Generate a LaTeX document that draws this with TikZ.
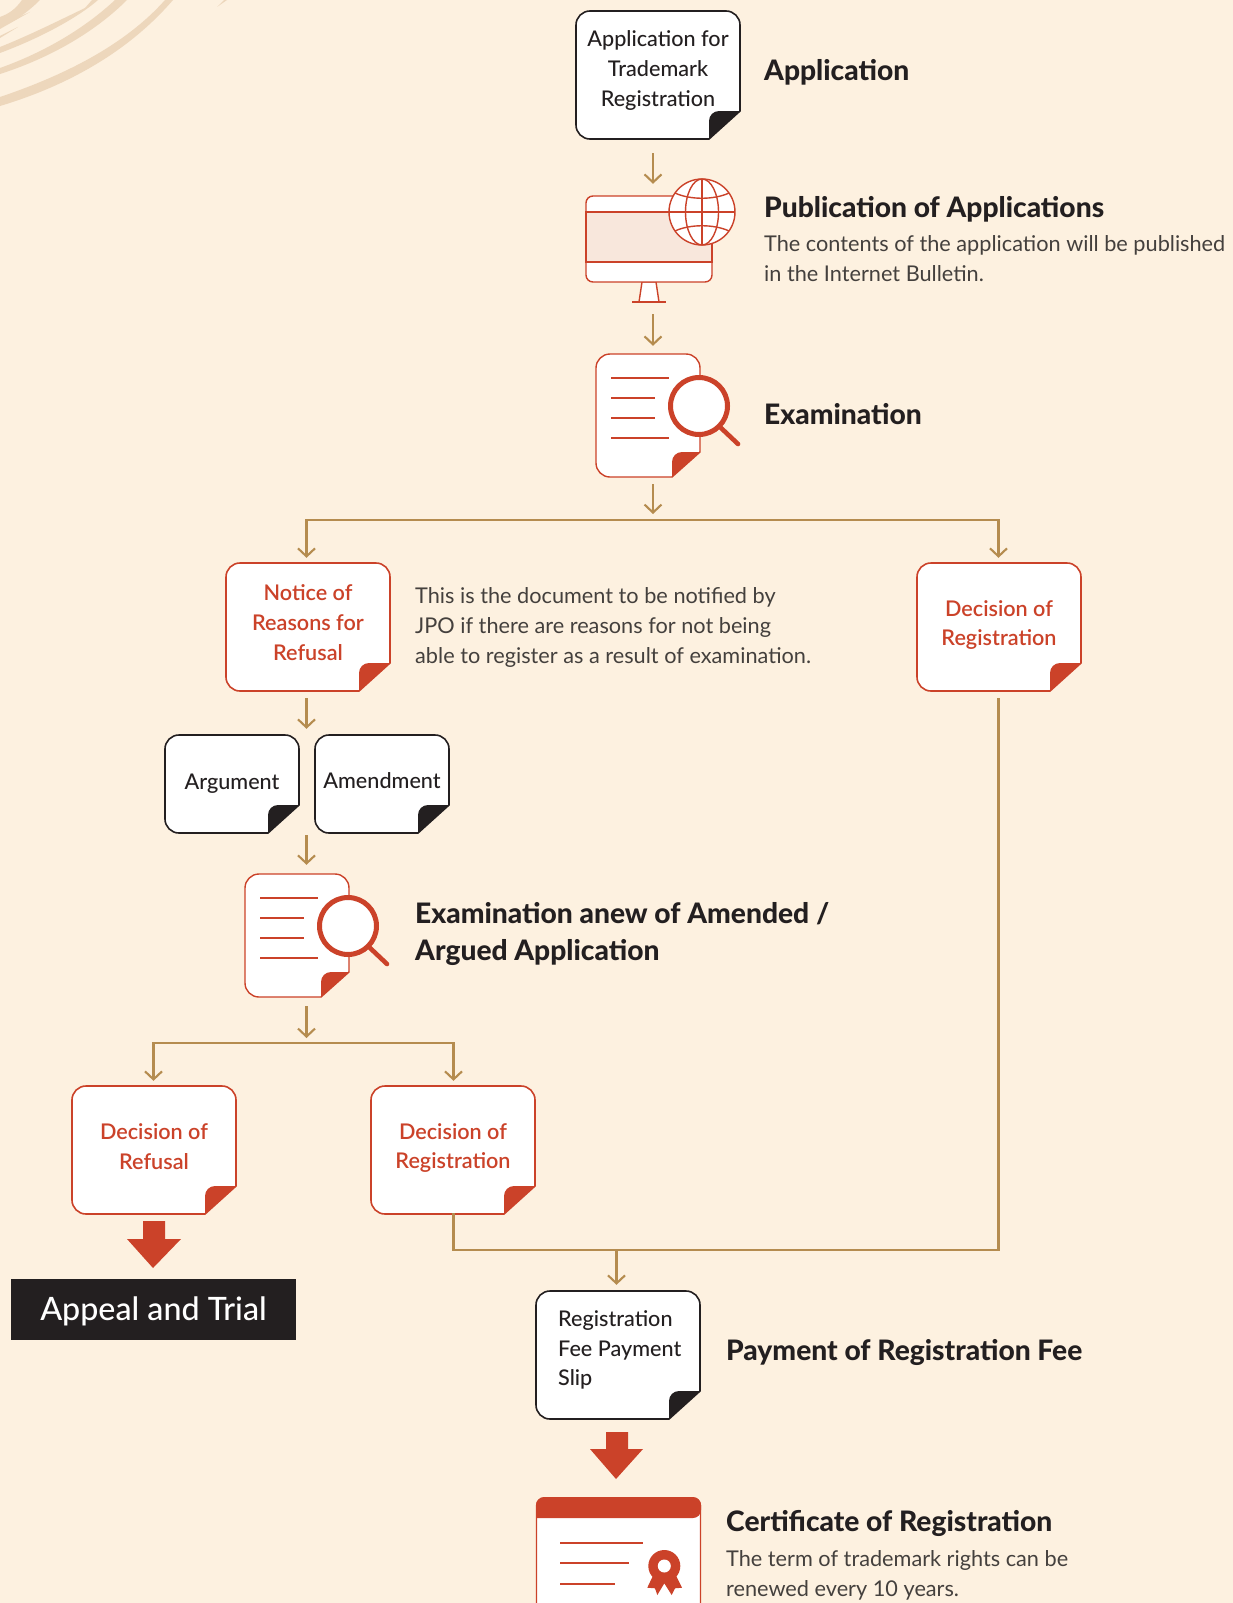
\documentclass[tikz,border=0pt]{standalone}
\usepackage{fontspec}
\setmainfont{Lato}
\newfontfamily\medfont{Lato Medium}
\newfontfamily\semifont{Lato Semibold}
\newfontfamily\heavyfont{Lato Heavy}
\usetikzlibrary{arrows.meta}
\definecolor{bg}{HTML}{FDF1E0}
\definecolor{swirl}{HTML}{EDD7BC}
\definecolor{ink}{HTML}{231F20}
\definecolor{bodyink}{HTML}{44403D}
\definecolor{brick}{HTML}{CB4229}
\definecolor{tan}{HTML}{B58C4F}
\definecolor{peach}{HTML}{F8E7DC}
\tikzset{
  flow/.style={draw=tan,line width=2.1pt,-{Straight Barb[length=8pt,width=17pt,line width=2.1pt]}},
  trunk/.style={draw=tan,line width=2.1pt,line cap=rect},
  boxtext/.style={font=\fontsize{21.6}{29.6}\selectfont\medfont,inner sep=0pt,align=center},
  heading/.style={font=\fontsize{28.2}{37}\selectfont\heavyfont,text=ink,inner sep=0pt,anchor=west,align=left},
  bodytext/.style={font=\fontsize{21.7}{30}\selectfont,text=bodyink,inner sep=0pt,anchor=west,align=left},
  thin red/.style={draw=brick,line width=1.4pt},
  bigarrow/.style={fill=brick,draw=none},
}
% name, x1, y1, x2, y2, colour, text colour, lift, text
\newcommand{\paperbox}[9]{%
  \path[fill=white,draw=#6,line width=1.6pt]
    ({#4-31},#5) -- ({#2+14},#5) arc[start angle=270,end angle=180,radius=14pt]
    -- (#2,{#3+14}) arc[start angle=180,end angle=90,radius=14pt]
    -- ({#4-14},#3) arc[start angle=90,end angle=0,radius=14pt]
    -- (#4,{#5-28}) -- cycle;
  \path[fill=#6] (#4,{#5-28}) -- ({#4-31},#5) -- ({#4-31},{#5-18})
    arc[start angle=180,end angle=90,radius=10pt] -- cycle;
  \node[minimum width={(#4-#2)*1pt},minimum height={(#5-#3)*1pt},inner sep=0pt] (#1) at ({(#2+#4)/2},{(#3+#5)/2}) {};
  \node[boxtext,text=#7] (#1text) at ([yshift=#8pt]#1.center) {#9};
}
% examination document icon, origin at upper left of the sheet
\newcommand{\examicon}[3]{%
  \begin{scope}[shift={(#2,#3)}]
    \path[fill=white,draw=brick,line width=1.4pt]
      (76,123) -- (14,123) arc[start angle=270,end angle=180,radius=14pt]
      -- (0,14) arc[start angle=180,end angle=90,radius=14pt]
      -- (90,0) arc[start angle=90,end angle=0,radius=14pt]
      -- (104,98) -- cycle;
    \path[fill=brick] (104,98) -- (76,123) -- (76,108) arc[start angle=180,end angle=90,radius=10pt] -- cycle;
    \draw[thin red] (15,24) -- (73,24) (15,44) -- (59,44) (15,64) -- (59,64) (15,84) -- (73,84);
    \draw[draw=brick,line width=4.6pt,line cap=round] (124,73) -- (142,90);
    \draw[draw=brick,fill=white,line width=5pt] (103,52) circle[radius=28.5pt];
    \node[minimum width=146pt,minimum height=123pt,inner sep=0pt] (#1) at (73,61.5) {};
  \end{scope}
}
\begin{document}
\begin{tikzpicture}[x=1pt,y=-1pt]
\useasboundingbox (0,0) rectangle (1233,1603);
\clip (0,0) rectangle (1233,1603);
\fill[bg] (0,0) rectangle (1233,1603);

% swirl
\fill[swirl] (0,97) .. controls (65,75) and (125,45) .. (165,0) -- (173,0) .. controls (130,50) and (70,85) .. (0,106) -- cycle;
\fill[swirl] (0,68) .. controls (45,52) and (85,28) .. (115,0) -- (127,0) .. controls (95,32) and (50,58) .. (0,74) -- cycle;
\fill[swirl] (0,47) .. controls (30,35) and (60,20) .. (85,8) -- (92,0) -- (98,0) .. controls (75,20) and (35,40) .. (0,53) -- cycle;
\fill[swirl] (0,27) .. controls (15,22) and (30,10) .. (40,0) -- (22,0) .. controls (15,10) and (8,14) .. (0,17) -- cycle;
\fill[swirl] (0,25) -- (30,12) -- (0,29) -- cycle;
\fill[swirl] (0,36) -- (18,27) -- (0,38) -- cycle;
\fill[swirl] (217,7) -- (224,0) -- (227,0) -- cycle;

% column and junction coordinates
\coordinate (j1) at (653,520);
\coordinate (jL) at (306.5,520);
\coordinate (jR) at (998.5,520);
\coordinate (k1) at (306.5,1043);
\coordinate (kL) at (153.5,1043);
\coordinate (kR) at (453.5,1043);
\coordinate (m1) at (453.5,1250);
\coordinate (m2) at (998.5,1250);
\coordinate (m3) at (616.5,1250);

% documents
\paperbox{app}{576}{11}{740}{139}{ink}{ink}{4.5}{Application for\\Trademark\\Registration}
\paperbox{notice}{226}{563}{390}{691}{brick}{brick}{4.5}{\semifont Notice of\hspace{5pt}\\\semifont Reasons for\hspace{5pt}\\\semifont Refusal}
\paperbox{decRa}{917}{563}{1081}{691}{brick}{brick}{2}{\semifont Decision of\\\semifont Registration}
\paperbox{arg}{165}{735}{299}{833}{ink}{ink}{0.5}{Argument}
\paperbox{amend}{315}{735}{449}{833}{ink}{ink}{3}{Amendment}
\paperbox{decF}{72}{1086}{236}{1214}{brick}{brick}{3.5}{\semifont Decision of\\\semifont Refusal}
\paperbox{decRb}{371}{1086}{535}{1214}{brick}{brick}{2}{\semifont Decision of\\\semifont Registration}
\paperbox{fee}{536}{1291}{700}{1419}{ink}{ink}{0}{}
\node[boxtext,text=ink,align=left,anchor=west] (feetext) at (558,1350) {Registration\\Fee Payment\\Slip};

% monitor
\path[fill=white,draw=brick,line width=1.4pt] (642,282) -- (639,302) -- (659,302) -- (656,282) -- cycle;
\draw[thin red] (632,302) -- (666,302);
\path[fill=white,draw=brick,line width=1.4pt,rounded corners=7pt] (586,196) rectangle (712,282);
\path[fill=peach,draw=brick,line width=1.4pt] (586,212) rectangle (712,262);
\path[fill=white,draw=brick,line width=1.4pt] (702,212) circle[radius=33pt];
\draw[thin red] (702,212) ellipse[x radius=16.5pt,y radius=33pt];
\draw[thin red] (702,179) -- (702,245) (669,212) -- (735,212);
\draw[thin red] (675,193) .. controls (690,200) and (714,200) .. (729,193);
\draw[thin red] (675,231) .. controls (690,224) and (714,224) .. (729,231);
\node[minimum width=149pt,minimum height=123pt,inner sep=0pt] (mon) at (660.5,240.5) {};

% examination icons
\examicon{exam}{596}{354}
\examicon{examb}{245}{874}

% certificate
\path[fill=white,draw=brick,line width=1.4pt,rounded corners=8pt] (536.5,1498) rectangle (700.5,1640);
\path[fill=brick,rounded corners=8pt] (536,1518) -- (536,1497) -- (701,1497) -- (701,1518) [sharp corners] -- cycle;
\draw[thin red] (560,1543) -- (643,1543) (560,1563) -- (629,1563) (560,1584) -- (615,1584);
\fill[brick] (653.3,1575) -- (647.3,1587.7) -- (655,1588.3) -- (657.3,1595) -- (664.3,1583.3) -- (671.7,1595) -- (675,1588.3) -- (682,1587.7) -- (675.7,1575) -- cycle;
\path[fill=brick] (664.3,1566) circle[radius=16pt];
\path[fill=white] (664.3,1566) circle[radius=6.5pt];
\node[minimum width=165pt,minimum height=106pt,inner sep=0pt] (cert) at (618.5,1550) {};

% appeal box
\node[fill=ink,text=white,minimum width=285pt,minimum height=61pt,inner sep=0pt,text height=22pt,text depth=1pt,font=\fontsize{32.2}{36}\selectfont\medfont] (appeal) at (153.5,1309.5) {Appeal and Trial};

% connectors
\draw[flow,shorten <=14pt,shorten >=-5pt] (app.south -| j1) -- (mon.north -| j1);
\draw[flow,shorten <=12pt,shorten >=8pt] (mon.south -| j1) -- (exam.north -| j1);
\draw[flow,shorten <=7pt,shorten >=6pt] (exam.south -| j1) -- (j1);
\draw[trunk] (jL) -- (jR);
\draw[flow,shorten >=5pt] (jL) -- (notice.north -| jL);
\draw[flow,shorten >=5pt] (jR) -- (decRa.north -| jR);
\draw[flow,shorten <=7pt,shorten >=6pt] (notice.south -| jL) -- (arg.north -| jL);
\draw[flow,shorten <=2pt,shorten >=9pt] (arg.south -| jL) -- (examb.north -| jL);
\draw[flow,shorten <=9pt,shorten >=5pt] (examb.south -| k1) -- (k1);
\draw[trunk] (kL) -- (kR);
\draw[flow,shorten >=5pt] (kL) -- (decF.north -| kL);
\draw[flow,shorten >=5pt] (kR) -- (decRb.north -| kR);
\draw[trunk,shorten <=8pt] (decRa.south -| jR) -- (m2) -- (m1) -- (decRb.south -| m1);
\draw[flow,shorten >=6pt] (m3) -- (fee.north -| m3);

% red arrows
\fill[bigarrow] (143,1221) -- (165,1221) -- (165,1239) -- (181,1239) -- (153,1268) -- (127,1239) -- (143,1239) -- cycle;
\fill[bigarrow] (606,1432) -- (628,1432) -- (628,1449) -- (643,1449) -- (616,1479) -- (590,1449) -- (606,1449) -- cycle;

% labels
\node[heading] (l1) at (764,72) {Application};
\node[heading] (l2) at (764,209) {Publication of Applications};
\node[bodytext] (l2b) at (764,259) {The contents of the application will be published\\in the Internet Bulletin.};
\node[heading] (l3) at (764,414) {Examination};
\node[bodytext] (l4) at (415,627) {This is the document to be notified by\\JPO if there are reasons for not being\\able to register as a result of examination.};
\node[heading] (l5) at (415,934) {Examination anew of Amended /\\Argued Application};
\node[heading] (l6) at (726,1352) {Payment of Registration Fee};
\node[heading] (l7) at (726,1523) {Certificate of Registration};
\node[bodytext] (l7b) at (726,1575) {The term of trademark rights can be\\renewed every 10 years.};
\end{tikzpicture}
\end{document}
